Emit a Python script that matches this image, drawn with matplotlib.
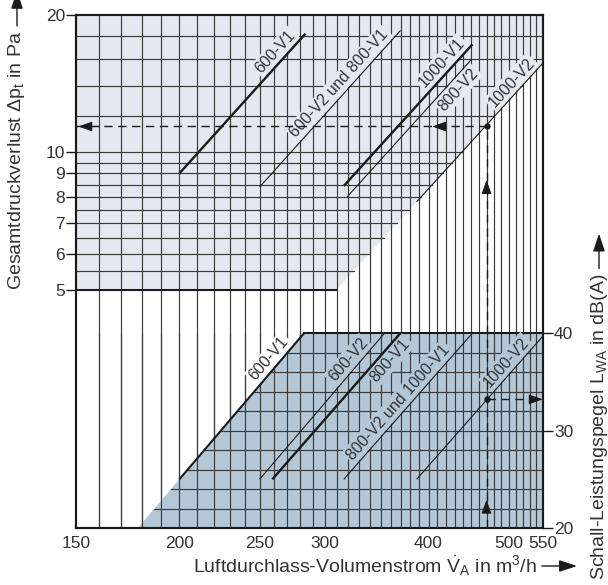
import numpy as np
import matplotlib.pyplot as plt
from matplotlib.ticker import FixedLocator, FixedFormatter, NullLocator

plt.rcParams['font.family'] = ['Liberation Sans', 'DejaVu Sans']
plt.rcParams['mathtext.fontset'] = 'custom'
plt.rcParams['mathtext.rm'] = 'Liberation Sans'
plt.rcParams['mathtext.it'] = 'Liberation Sans:italic'
plt.rcParams['mathtext.bf'] = 'Liberation Sans:bold'

# x axis: air volume flow in m3/h (log)
flow_lim = (150, 550)
flow_ticks = [150, 200, 250, 300, 400, 500, 550]
flow_grid = list(range(160, 550, 10))

# upper chart: total pressure loss in Pa (log)
dp_ticks = [5, 6, 7, 8, 9, 10, 20]
dp_grid = [5, 5.5, 6, 6.5, 7, 7.5, 8, 8.5, 9, 9.5, 10, 12, 14, 16, 18]
dp_names = ["600-V1", "600-V2 und 800-V1", "1000-V1", "800-V2", "1000-V2"]
dp_flow = [(200, 284), (250, 370), (316, 452), (319, 451), (387, 550)]
dp_vals = [(9.0, 18.2), (8.4, 18.5), (8.45, 17.25), (8.0, 16.0), (7.8, 15.7)]

# lower chart: sound power level in dB(A)
lwa_ticks = [20, 30, 40]
lwa_grid = [22, 24, 26, 28, 30, 32, 34, 36, 38]
lwa_names = ["600-V1", "600-V2", "800-V1", "800-V2 und 1000-V1", "1000-V2"]
lwa_flow = [(200, 283), (250, 354), (259, 370), (316, 452), (387, 550)]
lwa_vals = [(25, 40), (25, 40), (25, 40), (25, 40), (25, 39.7)]

# example reading
op_flow = 470
op_dp = 11.4
op_lwa = 33.2

# styles
ink = '#1a1a1a'
txt = '#333333'
grid_c = '#3a3a3a'
light = '#e4e9f1'
dark = '#b4c7d6'
dp_lw = [1.7, 0.8, 1.7, 0.8, 0.8]
dp_lab = [(0.82, 1), (0.62, 1), (0.82, 1), (0.83, -1), (0.81, 1)]
dp_bg = [light] * 5
lwa_lw = [1.5, 0.8, 1.7, 0.8, 0.8]
lwa_lab = [(0.78, 1), (0.77, 1), (0.86, -1), (0.48, 1), (0.77, 1)]
lwa_bg = ['white', dark, dark, dark, dark]


def log_interp(x0, x1, y0, y1, x, logy=True):
    t = np.log(x / x0) / np.log(x1 / x0)
    if logy:
        return y0 * (y1 / y0) ** t
    return y0 + (y1 - y0) * t


def x_at(x0, x1, y0, y1, y, logy=True):
    if logy:
        t = np.log(y / y0) / np.log(y1 / y0)
    else:
        t = (y - y0) / (y1 - y0)
    return x0 * (x1 / x0) ** t


fig = plt.figure(figsize=(6.08, 5.85), dpi=100)
ax_p = fig.add_axes([76 / 608, 57 / 585, 467 / 608, 513 / 585])
ax_p.set_xscale('log')
ax_p.set_yscale('log')
ax_p.set_xlim(*flow_lim)
p_bot = 20 / 4 ** (1 / (1 - 0.464))
ax_p.set_ylim(p_bot, 20)
ax_L = ax_p.twinx()
ax_L.set_ylim(20, 20 + 20 / 0.380)

# shaded areas
b = (dp_flow[4], dp_vals[4])
v5 = x_at(b[0][0], b[0][1], b[1][0], b[1][1], 5)
p550 = log_interp(b[0][0], b[0][1], b[1][0], b[1][1], 550)
ax_p.fill([150, v5, 550, 550, 150], [5, 5, p550, 20, 20], color=light,
          lw=0, zorder=0)
a = (lwa_flow[0], lwa_vals[0])
v20 = x_at(a[0][0], a[0][1], a[1][0], a[1][1], 20, logy=False)
v40 = x_at(a[0][0], a[0][1], a[1][0], a[1][1], 40, logy=False)
ax_L.fill([v20, v40, 550, 550], [20, 40, 40, 20], color=dark, lw=0, zorder=0)

# grid
ax_p.vlines(flow_grid, p_bot, 20, color=grid_c, lw=0.85, zorder=1)
ax_L.vlines(flow_grid, 20, 40, color=grid_c, lw=0.85, zorder=1)
for p in dp_grid:
    xe = min(550, x_at(b[0][0], b[0][1], b[1][0], b[1][1], p))
    ax_p.plot([150, xe], [p, p], color=ink if p == 5 else grid_c,
              lw=1.5 if p == 5 else 0.85, zorder=1)
for L in lwa_grid:
    xs = x_at(a[0][0], a[0][1], a[1][0], a[1][1], L, logy=False)
    ax_L.plot([xs, 550], [L, L], color=grid_c, lw=0.85, zorder=1)
ax_L.plot([v40, 550], [40, 40], color=ink, lw=1.5, zorder=1)


def add_curve(ax, xs, ys, lw, name, frac, side, bg, logy):
    ax.plot(xs, ys, color=ink, lw=lw, zorder=3, solid_capstyle='butt')
    p0 = ax.transData.transform((xs[0], ys[0]))
    p1 = ax.transData.transform((xs[1], ys[1]))
    ang = np.arctan2(p1[1] - p0[1], p1[0] - p0[0])
    lx = xs[0] * (xs[1] / xs[0]) ** frac
    ly = log_interp(xs[0], xs[1], ys[0], ys[1], lx, logy)
    d = 2.0 * side
    ax.annotate(name, (lx, ly), xytext=(-np.sin(ang) * d, np.cos(ang) * d),
                textcoords='offset points', rotation=np.degrees(ang),
                rotation_mode='anchor', ha='center',
                va='bottom' if side > 0 else 'top', fontsize=11.5, color=txt,
                zorder=2, bbox=dict(boxstyle='square,pad=0.12', fc=bg,
                                    ec='none'))


for i in range(len(dp_names)):
    add_curve(ax_p, dp_flow[i], dp_vals[i], dp_lw[i], dp_names[i],
              dp_lab[i][0], dp_lab[i][1], dp_bg[i], True)
for i in range(len(lwa_names)):
    add_curve(ax_L, lwa_flow[i], lwa_vals[i], lwa_lw[i], lwa_names[i],
              lwa_lab[i][0], lwa_lab[i][1], lwa_bg[i], False)

# example reading with dashed arrows
dash = dict(color=ink, lw=1.0, ls=(0, (6, 4)), zorder=4)
y_top = ax_L.transData.inverted().transform(
    ax_p.transData.transform((op_flow, op_dp)))[1]
ax_L.plot([op_flow, op_flow], [20, y_top], **dash)
ax_p.plot([150, op_flow], [op_dp, op_dp], **dash)
ax_L.plot([op_flow, 550], [op_lwa, op_lwa], **dash)
ax_p.plot(op_flow, op_dp, 'o', color=ink, ms=3.5, zorder=5)
ax_L.plot(op_flow, op_lwa, 'o', color=ink, ms=3.5, zorder=5)
head = dict(arrowstyle='-|>,head_length=0.7,head_width=0.25', color=ink,
            lw=0.8, shrinkA=0, shrinkB=0, mutation_scale=12)
ax_p.annotate('', xy=(op_flow, 8.7), xytext=(op_flow, 8.2), arrowprops=head)
ax_p.annotate('', xy=(404, op_dp), xytext=(420, op_dp), arrowprops=head)
ax_p.annotate('', xy=(151, op_dp), xytext=(160, op_dp), arrowprops=head)
ax_L.annotate('', xy=(op_flow, 22.9), xytext=(op_flow, 22.0), arrowprops=head)
ax_L.annotate('', xy=(549.5, op_lwa), xytext=(530, op_lwa), arrowprops=head,
              annotation_clip=False)

# axes and ticks
for ax in (ax_p, ax_L):
    for s in ax.spines.values():
        s.set_linewidth(1.5)
        s.set_color(ink)
ax_p.xaxis.set_major_locator(FixedLocator(flow_ticks))
ax_p.xaxis.set_major_formatter(FixedFormatter([str(v) for v in flow_ticks]))
ax_p.xaxis.set_minor_locator(NullLocator())
ax_p.tick_params(axis='x', length=0, pad=6, labelsize=12.5, labelcolor=txt)
ax_p.yaxis.set_major_locator(FixedLocator(dp_ticks))
ax_p.yaxis.set_major_formatter(FixedFormatter([str(v) for v in dp_ticks]))
ax_p.yaxis.set_minor_locator(NullLocator())
ax_p.tick_params(axis='y', length=7, width=1, color=ink, pad=1,
                 labelsize=12.5, labelcolor=txt)
ax_L.yaxis.set_major_locator(FixedLocator(lwa_ticks))
ax_L.tick_params(axis='y', length=7, width=1, color=ink, pad=1,
                 labelsize=12.5, labelcolor=txt)

# axis titles with arrows
t_x = fig.text(193 / 608, 19 / 585,
               r"Luftdurchlass-Volumenstrom $\dot{\mathrm{V}}_\mathrm{A}$ in m$^3$/h",
               ha='left', va='center', fontsize=14, color=txt)
t_l = fig.text(17 / 608, 295 / 585,
               r"Gesamtdruckverlust $\Delta$p$_\mathrm{t}$ in Pa",
               rotation=90, ha='center', va='bottom', fontsize=14, color=txt)
t_r = fig.text(599 / 608, 5 / 585,
               r"Schall-Leistungspegel L$_\mathrm{WA}$ in dB(A)",
               rotation=90, ha='center', va='bottom', fontsize=14, color=txt)
fig.canvas.draw()
r = fig.canvas.get_renderer()
big = dict(arrowstyle='-|>,head_length=0.9,head_width=0.3', color=ink,
           lw=1.0, shrinkA=0, shrinkB=0, mutation_scale=12)
bb = t_x.get_window_extent(r)
ym = (bb.y0 + bb.y1) / 2
ax_p.annotate('', xy=(bb.x1 + 40, ym), xytext=(bb.x1 + 5, ym),
              xycoords='figure pixels', textcoords='figure pixels',
              arrowprops=big, annotation_clip=False)
for t in (t_l, t_r):
    bb = t.get_window_extent(r)
    xm = (bb.x0 + bb.x1) / 2
    ax_p.annotate('', xy=(xm, bb.y1 + 40), xytext=(xm, bb.y1 + 5),
                  xycoords='figure pixels', textcoords='figure pixels',
                  arrowprops=big, annotation_clip=False)

fig.savefig('out.png', dpi=100)
